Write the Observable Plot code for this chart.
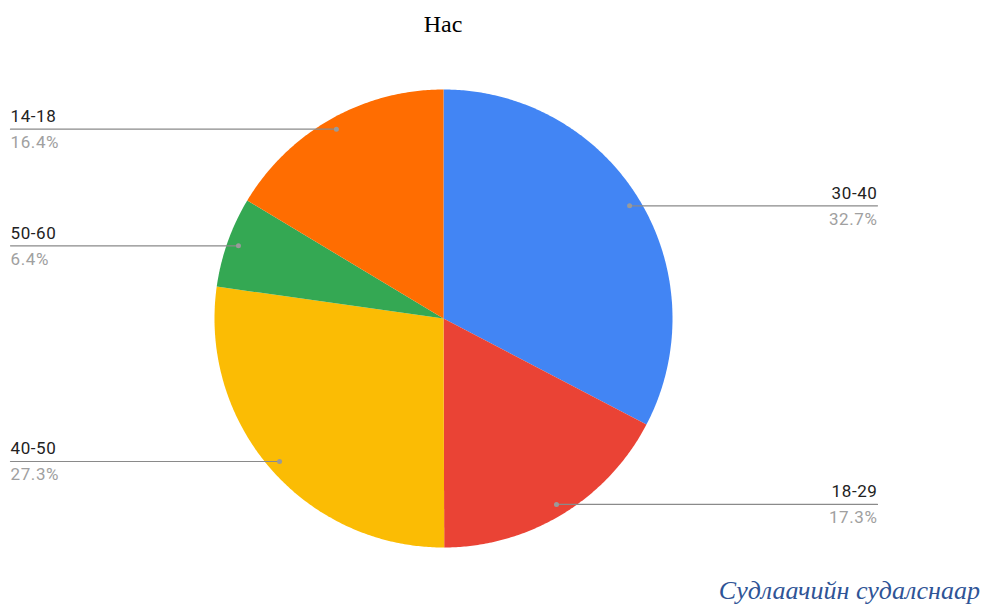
<!DOCTYPE html>
<html>
<head>
<meta charset="utf-8">
<script src="https://cdn.jsdelivr.net/npm/d3@7"></script>
<script src="https://cdn.jsdelivr.net/npm/@observablehq/plot@0.6"></script>
<style>
  html, body { margin: 0; padding: 0; background: #fff; }
  #wrap { position: relative; width: 985px; height: 605px; overflow: hidden; }
  #wrap svg { position: absolute; left: 0; top: 0; }
  #wrap svg text { letter-spacing: 0.6px; }
  #title { position: absolute; left: 0; width: 886px; top: 11px; text-align: center;
           font-family: "Liberation Serif", "Times New Roman", serif; font-size: 24px; color: #000; }
  #caption { position: absolute; right: 5px; top: 576px;
             font-family: "Liberation Serif", "Times New Roman", serif; font-style: italic;
             font-size: 26px; color: #2F5496; white-space: nowrap; }
</style>
</head>
<body>
<div id="wrap">
  <div id="title"></div>
  <div id="caption"></div>
</div>
<script>
const titleText = "Нас";
const captionText = "Судлаачийн судалснаар";
const categories = ["30-40", "18-29", "40-50", "50-60", "14-18"];
const values = [32.7, 17.3, 27.3, 6.4, 16.4];
const percentLabels = ["32.7%", "17.3%", "27.3%", "6.4%", "16.4%"];
const palette = ["#4285F4", "#EA4335", "#FBBC04", "#34A853", "#FF6D01"];

document.getElementById("title").textContent = titleText;
document.getElementById("caption").textContent = captionText;

const W = 985, H = 605;
const cx = 443, cy = 318, R = 229;
const edgeRight = (877 - cx) / R, edgeLeft = (10 - cx) / R;

const arcs = d3.pie().sort(null).value(d => d.value)(
  categories.map((c, i) => ({category: c, value: values[i], pct: percentLabels[i], color: palette[i]}))
);

// slice outlines in unit-circle coordinates (angle measured clockwise from top)
const slicePts = [];
for (const a of arcs) {
  const n = Math.max(2, Math.ceil((a.endAngle - a.startAngle) / (Math.PI / 360)));
  slicePts.push({k: a.data.category, color: a.data.color, x: 0, y: 0});
  for (let j = 0; j <= n; j++) {
    const t = a.startAngle + (a.endAngle - a.startAngle) * j / n;
    slicePts.push({k: a.data.category, color: a.data.color, x: Math.sin(t), y: Math.cos(t)});
  }
  slicePts.push({k: a.data.category, color: a.data.color, x: 0, y: 0});
}

const labels = arcs.map(a => {
  const m = (a.startAngle + a.endAngle) / 2;
  const px = 0.95 * Math.sin(m), py = 0.95 * Math.cos(m);
  const right = m < Math.PI;
  return {category: a.data.category, pct: a.data.pct, px, py, ex: right ? edgeRight : edgeLeft, right};
});
const leaders = labels.flatMap(l => [{k: l.category, x: l.px, y: l.py}, {k: l.category, x: l.ex, y: l.py}]);
const rightLabels = labels.filter(l => l.right);
const leftLabels = labels.filter(l => !l.right);

const textOpts = (anchor) => ({x: "ex", y: "py", lineAnchor: "bottom", textAnchor: anchor,
  fontFamily: "Roboto, sans-serif", fontSize: 17});

const chart = Plot.plot({
  width: W, height: H,
  marginLeft: cx - R, marginRight: W - (cx + R),
  marginTop: cy - R, marginBottom: H - (cy + R),
  x: {domain: [-1, 1], axis: null},
  y: {domain: [-1, 1], axis: null},
  color: {type: "identity"},
  style: {background: "transparent", overflow: "visible"},
  marks: [
    Plot.line(slicePts, {x: "x", y: "y", z: "k", fill: "color", stroke: null, curve: "linear"}),
    Plot.line(leaders, {x: "x", y: "y", z: "k", stroke: "#8a8a8a", strokeWidth: 1.2}),
    Plot.dot(labels, {x: "px", y: "py", r: 2.5, fill: "#9a9a9a", stroke: null}),
    Plot.text(rightLabels, {...textOpts("end"), text: "category", dy: -7, fill: "#222"}),
    Plot.text(rightLabels, {...textOpts("end"), text: "pct", dy: 19, fill: "#a0a0a0"}),
    Plot.text(leftLabels, {...textOpts("start"), text: "category", dy: -7, fill: "#222"}),
    Plot.text(leftLabels, {...textOpts("start"), text: "pct", dy: 19, fill: "#a0a0a0"})
  ]
});
document.getElementById("wrap").prepend(chart);
</script>
</body>
</html>
